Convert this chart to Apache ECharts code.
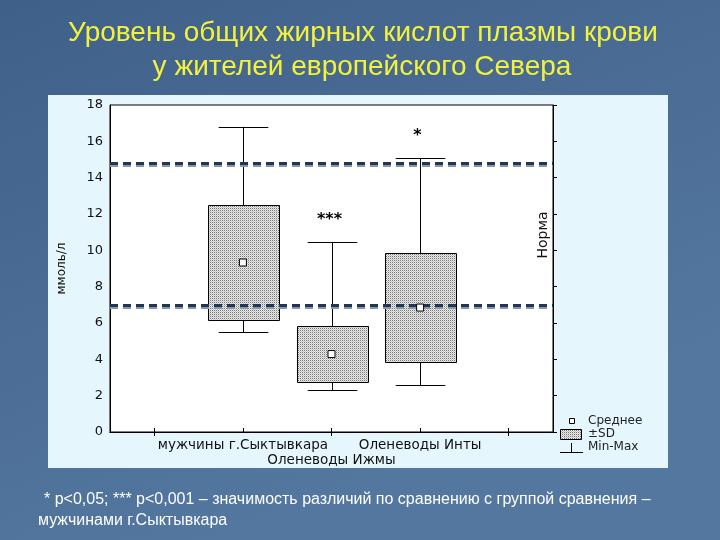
<!DOCTYPE html>
<html>
<head>
<meta charset="utf-8">
<script src="https://cdn.jsdelivr.net/npm/echarts@6/dist/echarts.min.js"></script>
<style>
  html, body { margin: 0; padding: 0; background: #4a6c94; }
  #chart { width: 720px; height: 540px; }
</style>
</head>
<body>
<div id="chart"></div>
<script>
// groups on the x axis (blank slots at both ends, like the original plot)
const categories = ['', 'мужчины г.Сыктывкара', 'Оленеводы Ижмы', 'Оленеводы Инты', ''];
const groupIndex = [1, 2, 3];
const means  = [9.33, 4.29, 6.85];
const sdLow  = [6.16, 2.75, 3.85];
const sdHigh = [12.5, 5.83, 9.85];
const mins   = [5.5, 2.3, 2.59];
const maxs   = [16.8, 10.46, 15.08];
const marks  = ['', '***', '*'];
const normLow = 7.0, normHigh = 14.8;
const yTicks = [0, 18, 2]; // min, max, step

const FONT = 'DejaVu Sans';
const SLIDE_FONT = '"Liberation Sans", Arial, sans-serif';

function makeDots() {
  const c = document.createElement('canvas');
  c.width = 2; c.height = 2;
  const ctx = c.getContext('2d');
  ctx.fillStyle = '#eaeaea';
  ctx.fillRect(0, 0, 2, 2);
  ctx.fillStyle = '#767676';
  ctx.fillRect(0, 0, 1, 1);
  ctx.fillStyle = '#c4c4c4';
  ctx.fillRect(1, 1, 1, 1);
  return c;
}
const dotFill = { image: makeDots(), repeat: 'repeat' };

const boxData = groupIndex.map((g, i) => [g, sdLow[i], sdHigh[i], mins[i], maxs[i]]);
const meanData = groupIndex.map((g, i) => [g, means[i]]);

const chart = echarts.init(document.getElementById('chart'));

chart.setOption({
  animation: false,
  backgroundColor: {
    type: 'linear', x: 0, y: 0, x2: 0.3, y2: 1,
    colorStops: [
      { offset: 0, color: '#3f6089' },
      { offset: 1, color: '#54779f' }
    ]
  },
  grid: {
    left: 110, top: 105, right: 167, bottom: 108,
    show: true, backgroundColor: '#ffffff', borderColor: '#000', borderWidth: 1
  },
  xAxis: [
    {
      type: 'category', data: categories, position: 'bottom',
      axisLine: { lineStyle: { color: '#000', width: 1 } },
      axisTick: { show: true, inside: true, alignWithLabel: true, length: 4, lineStyle: { color: '#000' } },
      axisLabel: {
        interval: 0, margin: 6, color: '#111', fontFamily: FONT, fontSize: 13.5, lineHeight: 15,
        formatter: (v, i) => (i === 2 ? '\n' + v : v)
      },
      splitLine: { show: false }
    },
    {
      type: 'category', data: categories, position: 'top',
      axisLine: { lineStyle: { color: '#000', width: 1 } },
      axisTick: { show: true, inside: true, alignWithLabel: true, length: 4, lineStyle: { color: '#000' } },
      axisLabel: { show: false },
      splitLine: { show: false }
    }
  ],
  yAxis: [
    {
      type: 'value', min: yTicks[0], max: yTicks[1], interval: yTicks[2], position: 'left',
      name: 'ммоль/л', nameLocation: 'middle', nameGap: 42,
      nameTextStyle: { color: '#111', fontFamily: FONT, fontSize: 12 },
      axisLine: { show: true, lineStyle: { color: '#000' } },
      axisTick: { show: false },
      axisLabel: { color: '#111', fontFamily: FONT, fontSize: 13, margin: 7 },
      splitLine: { show: false }
    },
    {
      type: 'value', min: yTicks[0], max: yTicks[1], interval: yTicks[2], position: 'right',
      axisLine: { show: true, lineStyle: { color: '#000' } },
      axisTick: { show: true, inside: false, length: 4, lineStyle: { color: '#000' } },
      axisLabel: { show: false },
      splitLine: { show: false }
    }
  ],
  series: [
    {
      type: 'custom',
      xAxisIndex: 0, yAxisIndex: 0,
      data: boxData,
      encode: { x: 0, y: [1, 2, 3, 4] },
      z: 3,
      renderItem: function (params, api) {
        const x = api.value(0);
        const lo = api.coord([x, api.value(1)]);
        const hi = api.coord([x, api.value(2)]);
        const mn = api.coord([x, api.value(3)]);
        const mx = api.coord([x, api.value(4)]);
        const band = api.size([1, 0])[0];
        const bw = band * 0.8;
        const cw = band * 0.56;
        const cx = Math.round(lo[0]) + 0.5;
        const line = { stroke: '#000', lineWidth: 1 };
        return {
          type: 'group',
          children: [
            { type: 'line', shape: { x1: cx, y1: mx[1], x2: cx, y2: hi[1] }, style: line },
            { type: 'line', shape: { x1: cx, y1: lo[1], x2: cx, y2: mn[1] }, style: line },
            { type: 'line', shape: { x1: cx - cw / 2, y1: Math.round(mx[1]) + 0.5, x2: cx + cw / 2, y2: Math.round(mx[1]) + 0.5 }, style: line },
            { type: 'line', shape: { x1: cx - cw / 2, y1: Math.round(mn[1]) + 0.5, x2: cx + cw / 2, y2: Math.round(mn[1]) + 0.5 }, style: line },
            {
              type: 'rect',
              shape: { x: Math.round(cx - bw / 2) + 0.5, y: Math.round(hi[1]) + 0.5, width: Math.round(bw), height: Math.round(lo[1] - hi[1]) },
              style: { fill: dotFill, stroke: '#000', lineWidth: 1 }
            },
            {
              type: 'text',
              x: cx - 3, y: mx[1] - 22,
              style: {
                text: marks[params.dataIndex], fill: '#000',
                font: 'bold 16px ' + FONT, textAlign: 'center', textVerticalAlign: 'middle'
              }
            }
          ]
        };
      }
    },
    {
      type: 'scatter',
      xAxisIndex: 0, yAxisIndex: 0,
      data: meanData,
      symbol: 'rect', symbolSize: 7,
      itemStyle: { color: '#fff', borderColor: '#000', borderWidth: 1, opacity: 1 },
      z: 5,
      markLine: {
        silent: true, symbol: 'none', label: { show: false },
        lineStyle: {
          color: '#1f3757', width: 3, type: [8, 5],
          shadowColor: '#8c97a6', shadowOffsetY: 2, shadowBlur: 0
        },
        data: [{ yAxis: normHigh }, { yAxis: normLow }]
      }
    }
  ],
  graphic: [
    { type: 'rect', z: -1, shape: { x: 48, y: 95, width: 620, height: 373 }, style: { fill: '#e5f7fd' } },
    {
      type: 'text', x: 363, y: 33, z: 100,
      style: {
        text: 'Уровень общих жирных кислот плазмы крови', fill: '#f2f23e',
        font: '28px ' + SLIDE_FONT, textAlign: 'center', textVerticalAlign: 'middle'
      }
    },
    {
      type: 'text', x: 362, y: 67, z: 100,
      style: {
        text: 'у жителей европейского Севера', fill: '#f2f23e',
        font: '28px ' + SLIDE_FONT, textAlign: 'center', textVerticalAlign: 'middle'
      }
    },
    {
      type: 'text', x: 543, y: 235, z: 100, rotation: Math.PI / 2,
      style: { text: 'Норма', fill: '#111', font: '14px ' + FONT, textAlign: 'center', textVerticalAlign: 'middle' }
    },
    // legend
    { type: 'rect', z: 100, shape: { x: 569.5, y: 418.5, width: 5, height: 5 }, style: { fill: '#fff', stroke: '#000', lineWidth: 1 } },
    { type: 'text', z: 100, x: 588, y: 421, style: { text: 'Среднее', fill: '#222', font: '12px ' + FONT, textVerticalAlign: 'middle' } },
    { type: 'rect', z: 100, shape: { x: 560.5, y: 429.5, width: 21, height: 10 }, style: { fill: dotFill, stroke: '#000', lineWidth: 1 } },
    { type: 'text', z: 100, x: 588, y: 434, style: { text: '±SD', fill: '#222', font: '12px ' + FONT, textVerticalAlign: 'middle' } },
    { type: 'line', z: 100, shape: { x1: 560, y1: 452.5, x2: 583, y2: 452.5 }, style: { stroke: '#000', lineWidth: 1 } },
    { type: 'line', z: 100, shape: { x1: 571.5, y1: 443, x2: 571.5, y2: 452 }, style: { stroke: '#000', lineWidth: 1 } },
    { type: 'text', z: 100, x: 588, y: 447, style: { text: 'Min-Max', fill: '#222', font: '12px ' + FONT, textVerticalAlign: 'middle' } },
    // footnote
    {
      type: 'text', z: 100, x: 44, y: 500,
      style: {
        text: '* p<0,05; *** p<0,001 – значимость различий по сравнению с группой сравнения –',
        fill: '#ffffff', font: '16px ' + SLIDE_FONT, textVerticalAlign: 'middle'
      }
    },
    {
      type: 'text', z: 100, x: 38, y: 521,
      style: {
        text: 'мужчинами г.Сыктывкара',
        fill: '#ffffff', font: '16px ' + SLIDE_FONT, textVerticalAlign: 'middle'
      }
    }
  ]
});
</script>
</body>
</html>
